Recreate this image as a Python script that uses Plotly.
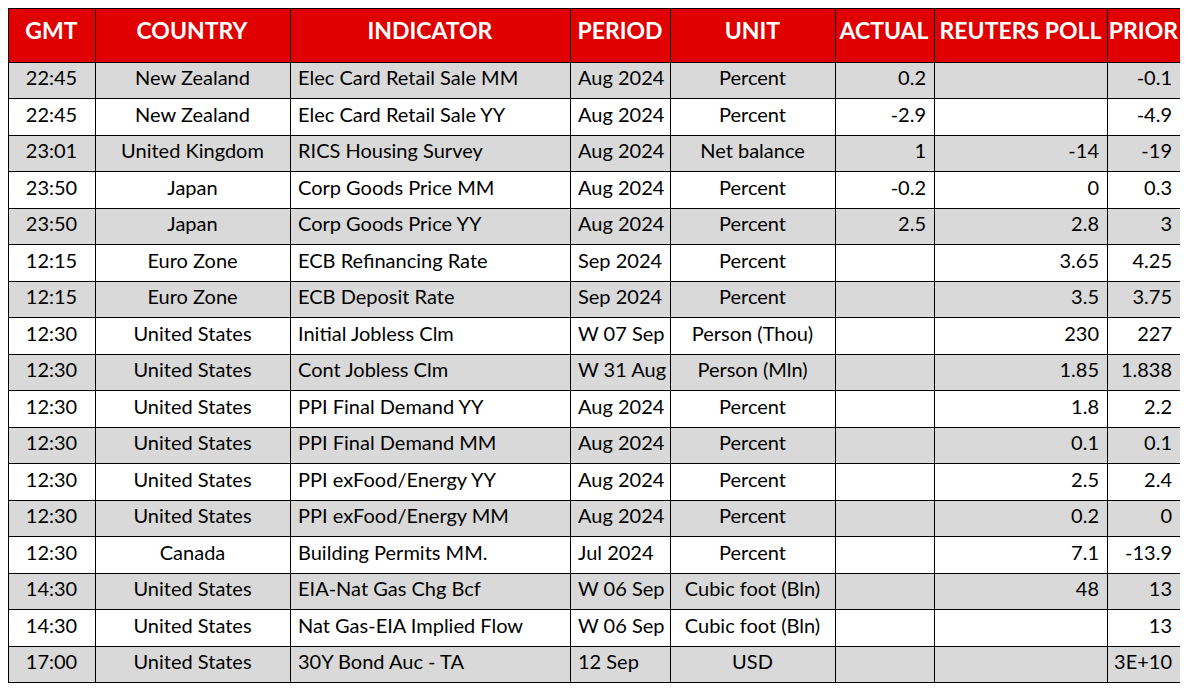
import plotly.graph_objects as go

# Calendário econômico (GMT)
gmt = ["22:45", "22:45", "23:01", "23:50", "23:50", "12:15", "12:15", "12:30", "12:30",
       "12:30", "12:30", "12:30", "12:30", "12:30", "14:30", "14:30", "17:00"]
country = ["New Zealand", "New Zealand", "United Kingdom", "Japan", "Japan", "Euro Zone",
           "Euro Zone", "United States", "United States", "United States", "United States",
           "United States", "United States", "Canada", "United States", "United States",
           "United States"]
indicator = ["Elec Card Retail Sale MM", "Elec Card Retail Sale YY", "RICS Housing Survey",
             "Corp Goods Price MM", "Corp Goods Price YY", "ECB Refinancing Rate",
             "ECB Deposit Rate", "Initial Jobless Clm", "Cont Jobless Clm",
             "PPI Final Demand YY", "PPI Final Demand MM", "PPI exFood/Energy YY",
             "PPI exFood/Energy MM", "Building Permits MM.", "EIA-Nat Gas Chg Bcf",
             "Nat Gas-EIA Implied Flow", "30Y Bond Auc - TA"]
period = ["Aug 2024", "Aug 2024", "Aug 2024", "Aug 2024", "Aug 2024", "Sep 2024", "Sep 2024",
          "W 07 Sep", "W 31 Aug", "Aug 2024", "Aug 2024", "Aug 2024", "Aug 2024", "Jul 2024",
          "W 06 Sep", "W 06 Sep", "12 Sep"]
unit = ["Percent", "Percent", "Net balance", "Percent", "Percent", "Percent", "Percent",
        "Person (Thou)", "Person (Mln)", "Percent", "Percent", "Percent", "Percent", "Percent",
        "Cubic foot (Bln)", "Cubic foot (Bln)", "USD"]
actual = ["0.2", "-2.9", "1", "-0.2", "2.5", "", "", "", "", "", "", "", "", "", "", "", ""]
poll = ["", "", "-14", "0", "2.8", "3.65", "3.5", "230", "1.85", "1.8", "0.1", "2.5", "0.2",
        "7.1", "48", "", ""]
prior = ["-0.1", "-4.9", "-19", "0.3", "3", "4.25", "3.75", "227", "1.838", "2.2", "0.1", "2.4",
         "0", "-13.9", "13", "13", "3E+10"]
headers = ["GMT", "COUNTRY", "INDICATOR", "PERIOD", "UNIT", "ACTUAL", "REUTERS POLL", "PRIOR"]

RED = "#e00000"
GRAY = "#d9d9d9"


def nb(s):
    # espaço não separável para o plotly não quebrar a linha
    return s.replace(" ", "\u00a0")


columns = [gmt, country, indicator, period, unit, actual, poll, prior]
row_fill = [GRAY if i % 2 == 0 else "white" for i in range(len(gmt))]

fig = go.Figure(
    data=go.Table(
        columnwidth=[87, 195, 280, 100, 165, 99, 173, 73],
        header=dict(
            values=["<b>%s</b>" % nb(h) for h in headers],
            fill_color=RED,
            line=dict(color="black", width=1),
            align="center",
            font=dict(family="Lato", size=23, color="white"),
            height=54,
        ),
        cells=dict(
            values=[[nb(v) for v in col] for col in columns],
            fill_color=[row_fill] * 8,
            line=dict(color="black", width=1),
            align=["center", "center", "left", "left", "center", "right", "right", "right"],
            font=dict(family="Lato", size=20, color="black"),
            height=36.5,
        ),
    )
)
fig.update_layout(
    width=1172,
    height=675,
    margin=dict(l=0, r=0, t=0, b=0),
    paper_bgcolor="white",
)
fig.write_html("out.html")
